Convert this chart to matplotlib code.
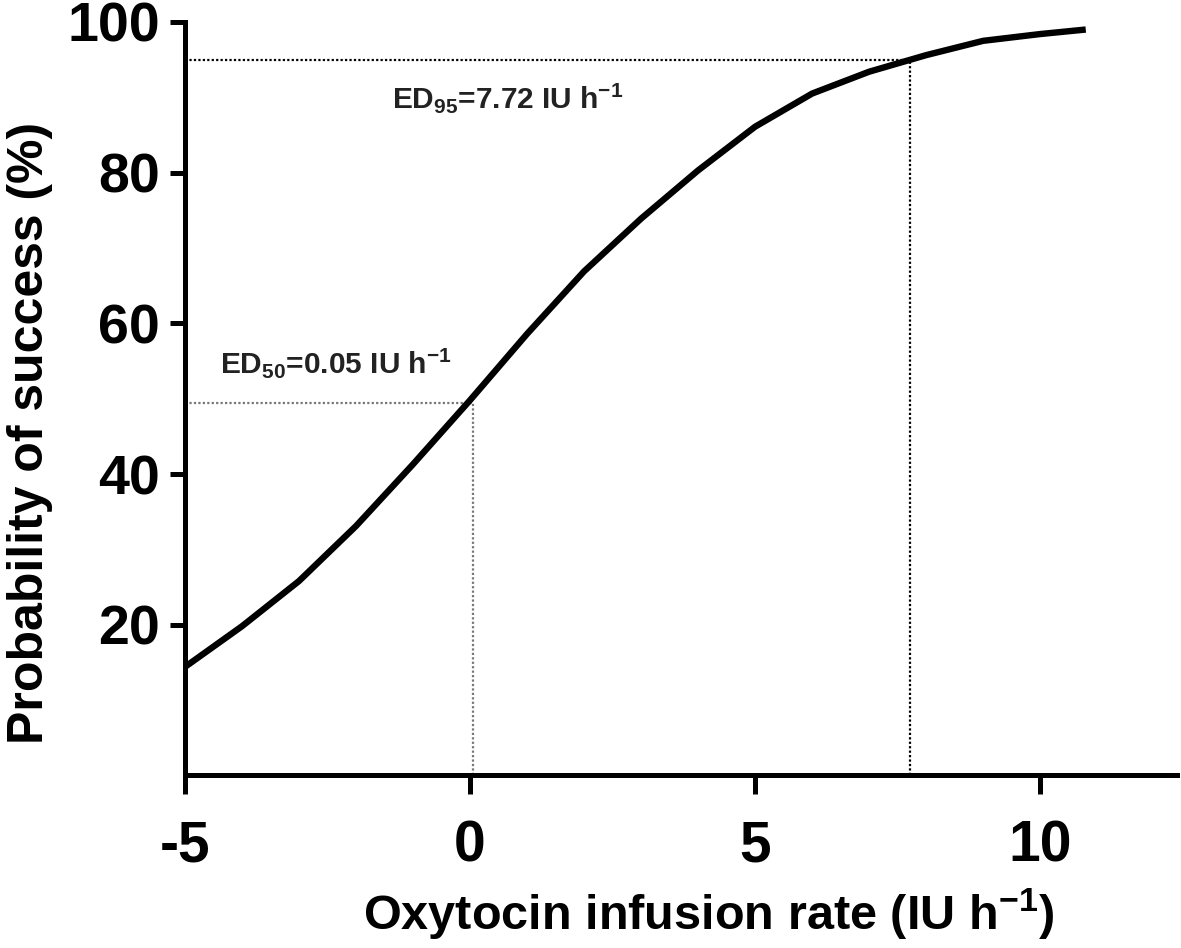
import matplotlib.pyplot as plt
from matplotlib import font_manager

# dose-response curve
rate = [-5, -4, -3, -2, -1, 0, 1, 2, 3, 4, 5, 6, 7, 8, 9, 10, 10.8]
prob = [14.4, 19.8, 25.8, 33.1, 41.3, 49.8, 58.6, 66.9, 73.9, 80.3, 86.1, 90.5, 93.4, 95.6, 97.5, 98.4, 99.0]

ed50_x, ed50_y = 0.05, 49.4
ed95_x, ed95_y = 7.72, 95.0
xticks = [-5, 0, 5, 10]
yticks = [20, 40, 60, 80, 100]

names = {f.name for f in font_manager.fontManager.ttflist}
narrow = 'Liberation Sans Narrow' if 'Liberation Sans Narrow' in names else 'Liberation Sans'

plt.rcParams['mathtext.fontset'] = 'custom'
plt.rcParams['mathtext.rm'] = 'Liberation Sans:bold'
plt.rcParams['mathtext.bf'] = narrow + ':bold'
plt.rcParams['mathtext.default'] = 'rm'

fig = plt.figure(figsize=(11.81, 9.48), dpi=100)
ax = fig.add_axes([0.1566, 0.182, 0.84, 0.7948])

# guide lines for ED50 and ED95
ax.plot([-5, ed95_x], [ed95_y, ed95_y], color='black', linestyle=(0, (1, 1)), linewidth=1.6)
ax.plot([ed95_x, ed95_x], [0, ed95_y], color='black', linestyle=(0, (1, 1)), linewidth=1.6)
ax.plot([-5, ed50_x], [ed50_y, ed50_y], color='#777777', linestyle=(0, (1, 1)), linewidth=1.6)
ax.plot([ed50_x, ed50_x], [0, ed50_y], color='#777777', linestyle=(0, (1, 1)), linewidth=1.6)

ax.plot(rate, prob, color='black', linewidth=4.6, solid_capstyle='butt', solid_joinstyle='round')

ax.text(-1.37, 88.6, 'ED$_{95}$=7.72 IU h$^{-1}$', fontsize=21.5, fontweight='bold',
        family='Liberation Sans', color='#222222')
ax.text(-4.39, 53.4, 'ED$_{50}$=0.05 IU h$^{-1}$', fontsize=21.5, fontweight='bold',
        family='Liberation Sans', color='#222222')

ax.set_xlim(-5, 12.4)
ax.set_ylim(0, 100)
ax.set_xticks(xticks)
ax.set_yticks(yticks)
ax.set_xticklabels([str(t) for t in xticks], family=narrow, fontweight='bold', fontsize=41)
ax.set_yticklabels([str(t) for t in yticks], family=narrow, fontweight='bold', fontsize=40)

for side in ['top', 'right']:
    ax.spines[side].set_visible(False)
for side in ['left', 'bottom']:
    ax.spines[side].set_linewidth(3.6)
ax.tick_params(axis='x', direction='out', length=14, width=3.6, pad=18)
ax.tick_params(axis='y', direction='out', length=11, width=3.6, pad=7)

ax.set_xlabel('Oxytocin infusion rate (IU h$^{\\mathbf{-1}}$)', family=narrow,
              fontweight='bold', fontsize=35)
ax.set_ylabel('Probability of success (%)', family=narrow, fontweight='bold',
              fontsize=36)
ax.xaxis.set_label_coords(0.528, -0.148)
ax.yaxis.set_label_coords(-0.133, 0.455)

plt.savefig('out.png', dpi=100)
